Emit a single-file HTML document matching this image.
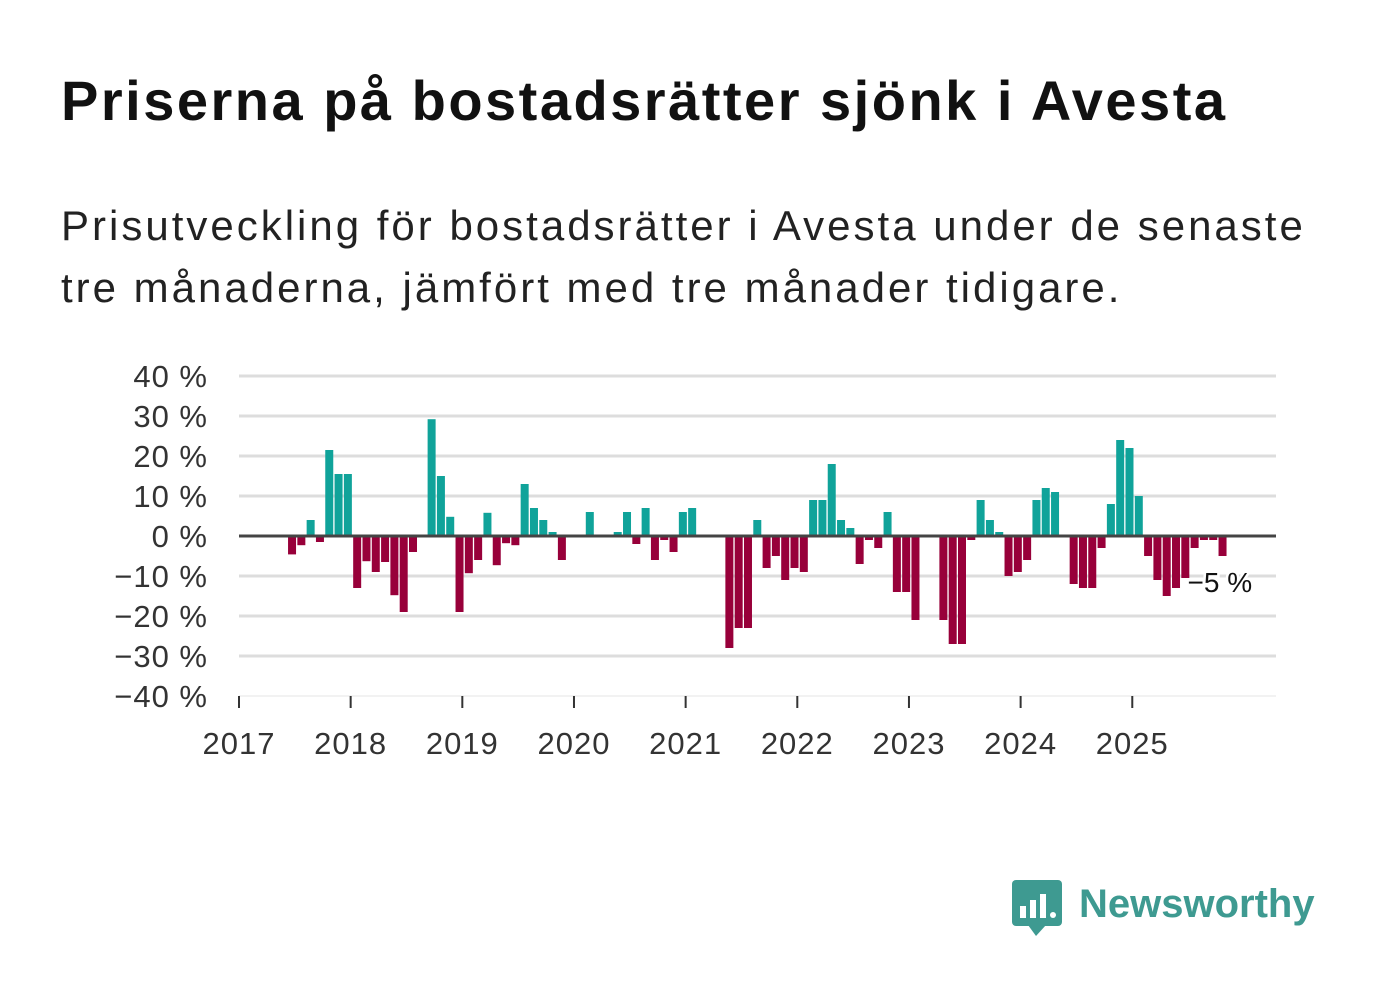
<!DOCTYPE html>
<html><head><meta charset="utf-8"><style>
body{margin:0;background:#fff;width:1382px;height:999px;overflow:hidden;font-family:"Liberation Sans","DejaVu Sans",sans-serif;}
h1{position:absolute;left:61px;top:68px;margin:0;font-size:56px;font-weight:bold;color:#111;letter-spacing:2.5px;white-space:nowrap}
p{position:absolute;left:61px;top:195px;margin:0;font-size:42px;line-height:62px;color:#222;letter-spacing:3px;white-space:nowrap}
</style></head><body>
<h1>Priserna på bostadsrätter sjönk i Avesta</h1>
<p>Prisutveckling för bostadsrätter i Avesta under de senaste<br>tre månaderna, jämfört med tre månader tidigare.</p>
<svg id="chart" width="1382" height="999" style="position:absolute;left:0;top:0"></svg>
<script>
const values=[null,null,null,null,null,-4.6,-2.3,4,-1.5,21.5,15.5,15.5,-13,-6.3,-9,-6.5,-14.8,-19,-4,0,29.2,15,4.8,-19,-9.3,-6,5.8,-7.3,-1.8,-2.3,13,7,4,1,-6,0,0,6,0,0,1,6,-2,7,-6,-1,-4,6,7,0,0,0,-28,-23,-23,4,-8,-5,-11,-8,-9,9,9,18,4,2,-7,-1,-3,6,-14,-14,-21,0,0,-21,-27,-27,-1,9,4,1,-10,-9,-6,9,12,11,0,-12,-13,-13,-3,8,24,22,10,-5,-11,-15,-13,-10.5,-3,-1,-1,-5];
const yTicks=[40,30,20,10,0,-10,-20,-30,-40];
const years=[2017,2018,2019,2020,2021,2022,2023,2024,2025];
const lastLabel="−5 %";
const svg=document.getElementById('chart');const NS='http://www.w3.org/2000/svg';
const x0=239,x1=1276,mw=9.305;
const y=v=>536-v*4;
const xm=i=>x0+(i+0.7)*mw;
const xy=yr=>x0+(yr-2017)*12*mw;
function mk(t,a,txt){const e=document.createElementNS(NS,t);for(const k in a)e.setAttribute(k,a[k]);if(txt!=null)e.textContent=txt;svg.appendChild(e);return e;}
yTicks.forEach(t=>{
 const l=mk('line',{x1:x0,x2:x1,y1:y(t),y2:y(t),stroke:t==-40?'#eee':'#ddd','stroke-width':t==-40?1.5:3});
 
 
 const tx=mk('text',{x:208,y:y(t)+11,'text-anchor':'end','font-size':31,fill:'#333','letter-spacing':1},(t<0?'−'+(-t):t)+' %');
 
 
});
values.forEach((v,i)=>{
 if(v==null||v==0)return;
 const r=mk('rect',{x:xm(i)-4,y:Math.min(y(v),y(0)),width:8,height:Math.abs(y(v)-y(0)),fill:v>0?'#10a39a':'#98003a'});
 
 
});
const z=mk('line',{x1:x0,x2:x1,y1:y(0),y2:y(0),stroke:'#444','stroke-width':3});


years.forEach(yr=>{
 const tk=mk('line',{x1:xy(yr),x2:xy(yr),y1:696,y2:708,stroke:'#333','stroke-width':2});
 
 
 const tx=mk('text',{x:xy(yr),y:754,'text-anchor':'middle','font-size':31,fill:'#333','letter-spacing':1},yr);
 
 
});
const li=values.length-1;
const lb=mk('text',{x:xm(li)-35,y:y(values[li])+36,'font-size':28,fill:'#111',stroke:'#fff','stroke-width':5,'paint-order':'stroke'},lastLabel);


</script>
<div style="position:absolute;left:1012px;top:878px;height:60px;display:flex;align-items:flex-start">
<svg width="50" height="60" viewBox="0 0 50 60"><rect x="0" y="2" width="50" height="46" rx="4" fill="#3e9a91"/><polygon points="16,47 34,47 24,58" fill="#3e9a91"/><rect x="8" y="28" width="6" height="12" fill="#fff"/><rect x="18" y="22" width="6" height="18" fill="#fff"/><rect x="28" y="16" width="6" height="24" fill="#fff"/><circle cx="41" cy="37" r="3" fill="#fff"/></svg>
<span style="margin-left:17px;font-size:40px;font-weight:bold;color:#3e9a91;line-height:52px">Newsworthy</span></div>
</body></html>
